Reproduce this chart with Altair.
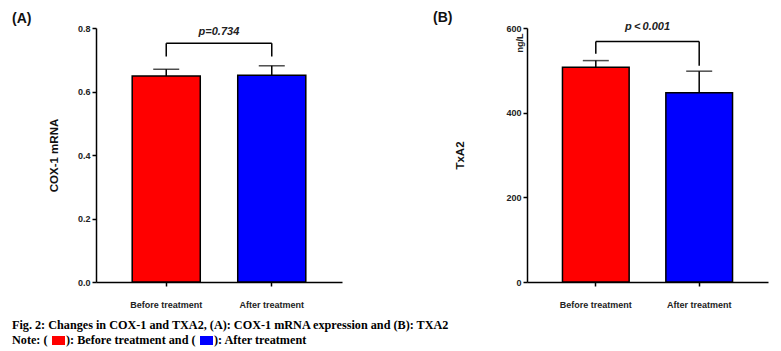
import altair as alt
import pandas as pd

groups = ["Before treatment", "After treatment"]
colors = ["#FF0000", "#0000FF"]

cox_mean = [0.649, 0.651]
cox_err = [0.021, 0.030]
cox_bracket = [0.752, 0.710, 0.710]   # bar top, left end, right end
cox_p = "p=0.734"
cox_p_y = 0.787
cox_ticks = [0.0, 0.2, 0.4, 0.6, 0.8]

txa_mean = [507, 447]
txa_err = [16, 51]
txa_bracket = [568, 539, 511]
txa_p = "p\u2009<\u20090.001"
txa_p_y = 602
txa_ticks = [0, 200, 400, 600]

caption1 = "Fig. 2: Changes in COX-1 and TXA2, (A): COX-1 mRNA expression and (B): TXA2"
caption2 = ["Note: (", "): Before treatment and (", "): After treatment"]

SANS = "Liberation Sans"
SERIF = "Liberation Serif"


def panel(mean, err, bracket, ptext, p_y, ymax, ticks, fmt, ytitle, tpad, width, panel_label, label_dx, extras):
    df = pd.DataFrame({"group": groups, "mean": mean,
                       "top": [m + e for m, e in zip(mean, err)], "color": colors})
    xs = alt.Scale(domain=groups, paddingInner=0.355, paddingOuter=0.343)
    x = alt.X("group:N", sort=groups, scale=xs,
              axis=alt.Axis(title=None, labelAngle=0, labelFontSize=9, labelFontWeight="bold",
                            labelPadding=14, tickSize=4, labelFont=SANS, labelColor="#222"))
    ys = alt.Scale(domain=[0, ymax], nice=False, zero=True)
    y = alt.Y("mean:Q", scale=ys,
              axis=alt.Axis(title=ytitle, values=ticks, format=fmt, grid=False, tickSize=4,
                            labelPadding=2, labelFontSize=9, labelFontWeight="bold", labelFont=SANS,
                            labelColor="#222", titleFont=SANS, titleFontSize=11.5,
                            titleFontWeight="bold", titlePadding=tpad, titleColor="#111"))
    base = alt.Chart(df)
    bars = base.mark_bar(stroke="black", strokeWidth=1.5).encode(
        x=x, y=y, color=alt.Color("color:N", scale=None))
    errv = base.mark_rule(color="black", strokeWidth=1.5).encode(
        x=alt.X("group:N", sort=groups, scale=xs), y=alt.Y("mean:Q", scale=ys), y2="top:Q")
    cap = base.mark_tick(orient="horizontal", size=26, thickness=1.5, color="black").encode(
        x=alt.X("group:N", sort=groups, scale=xs), y=alt.Y("top:Q", scale=ys))

    bdf = pd.DataFrame({"x1": [groups[0]], "x2": [groups[1]], "yb": [bracket[0]]})
    bh = alt.Chart(bdf).mark_rule(color="black", strokeWidth=1.5).encode(
        x=alt.X("x1:N", sort=groups, scale=xs), x2="x2:N", y=alt.Y("yb:Q", scale=ys))
    edf = pd.DataFrame({"group": groups, "y1": bracket[1:], "y2": [bracket[0]] * 2})
    be = alt.Chart(edf).mark_rule(color="black", strokeWidth=1.5).encode(
        x=alt.X("group:N", sort=groups, scale=xs), y=alt.Y("y1:Q", scale=ys), y2="y2:Q")

    pdf = pd.DataFrame({"group": [groups[0]], "py": [p_y], "t": [ptext]})
    ptxt = alt.Chart(pdf).mark_text(font=SANS, fontSize=11, fontWeight="bold", fontStyle="italic",
                                    color="#222", dx=label_dx, baseline="middle").encode(
        x=alt.X("group:N", sort=groups, scale=xs), y=alt.Y("py:Q", scale=ys), text="t:N")

    lab = alt.Chart(pd.DataFrame({"t": [panel_label[0]]})).mark_text(
        font=SANS, fontSize=14, fontWeight="bold", align="left", baseline="middle", color="#111").encode(
        x=alt.value(panel_label[1]), y=alt.value(panel_label[2]), text="t:N")

    layers = [bars, errv, cap, bh, be, ptxt, lab] + extras
    return alt.layer(*layers).properties(width=width, height=254)


# caption + legend swatches (attached to panel A)
cap1 = alt.Chart(pd.DataFrame({"t": [caption1]})).mark_text(
    font=SERIF, fontSize=12.2, fontWeight="bold", align="left", baseline="middle", color="black").encode(
    x=alt.value(-84), y=alt.value(297), text="t:N")
cap2 = alt.Chart(pd.DataFrame({"t": caption2, "px": [-84, -30, 118], "py": [312] * 3})).mark_text(
    font=SERIF, fontSize=12.2, fontWeight="bold", align="left", baseline="middle", color="black").encode(
    x=alt.X("px:Q", scale=None), y=alt.Y("py:Q", scale=None), text="t:N")
sw = alt.Chart(pd.DataFrame({"c": colors, "x0": [-44, 104], "x1": [-31, 117],
                             "y0": [308, 308], "y1": [317, 317]})).mark_rect().encode(
    x=alt.X("x0:Q", scale=None), x2="x1:Q", y=alt.Y("y0:Q", scale=None), y2="y1:Q",
    color=alt.Color("c:N", scale=None))

ngl = alt.Chart(pd.DataFrame({"t": ["ng/L"]})).mark_text(
    font=SANS, fontSize=9, fontWeight="bold", angle=270, align="center", baseline="middle",
    color="#222").encode(x=alt.value(-7), y=alt.value(15), text="t:N")

A = panel(cox_mean, cox_err, cox_bracket, cox_p, cox_p_y, 0.8, cox_ticks, ".1f", "COX-1 mRNA", 18,
          246, ("(A)", -84, -9), 52.7, [cap1, cap2, sw])
B = panel(txa_mean, txa_err, txa_bracket, txa_p, txa_p_y, 600, txa_ticks, "d", "TxA2", 40,
          241, ("(B)", -94, -10), 51.7, [ngl])

chart = alt.hconcat(A, B, spacing=185, bounds="flush").resolve_scale(
    x="independent", y="independent", color="independent").properties(
    padding={"left": 12, "top": 11, "right": 5, "bottom": 2}, background="white").configure_view(
    stroke=None).configure_axis(domainColor="black", domainWidth=1.5, tickColor="black", tickWidth=1.5)

chart.save("out.html", embed_options={"renderer": "svg", "actions": False})
